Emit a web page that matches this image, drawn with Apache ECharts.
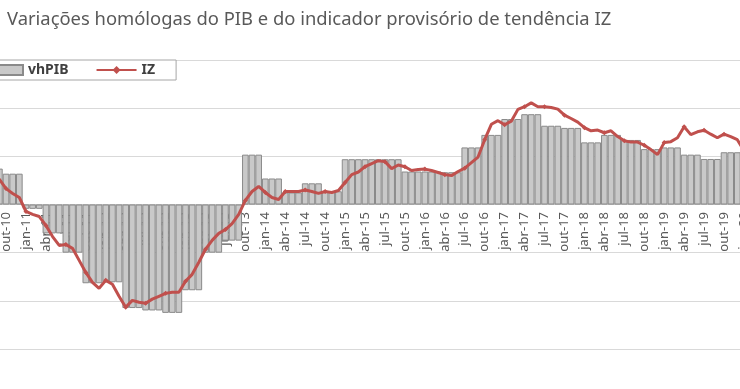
<!DOCTYPE html>
<html>
<head>
<meta charset="utf-8">
<script src="https://cdn.jsdelivr.net/npm/echarts@6/dist/echarts.min.js"></script>
<style>
html,body{margin:0;padding:0;background:#fff;}
#chart{width:740px;height:389px;}
</style>
</head>
<body>
<div id="chart"></div>
<script>
var titleText = 'Variações homólogas do PIB e do indicador provisório de tendência IZ';

var months = [
'jul-10','ago-10','set-10','out-10','nov-10','dez-10',
'jan-11','fev-11','mar-11','abr-11','mai-11','jun-11','jul-11','ago-11','set-11','out-11','nov-11','dez-11',
'jan-12','fev-12','mar-12','abr-12','mai-12','jun-12','jul-12','ago-12','set-12','out-12','nov-12','dez-12',
'jan-13','fev-13','mar-13','abr-13','mai-13','jun-13','jul-13','ago-13','set-13','out-13','nov-13','dez-13',
'jan-14','fev-14','mar-14','abr-14','mai-14','jun-14','jul-14','ago-14','set-14','out-14','nov-14','dez-14',
'jan-15','fev-15','mar-15','abr-15','mai-15','jun-15','jul-15','ago-15','set-15','out-15','nov-15','dez-15',
'jan-16','fev-16','mar-16','abr-16','mai-16','jun-16','jul-16','ago-16','set-16','out-16','nov-16','dez-16',
'jan-17','fev-17','mar-17','abr-17','mai-17','jun-17','jul-17','ago-17','set-17','out-17','nov-17','dez-17',
'jan-18','fev-18','mar-18','abr-18','mai-18','jun-18','jul-18','ago-18','set-18','out-18','nov-18','dez-18',
'jan-19','fev-19','mar-19','abr-19','mai-19','jun-19','jul-19','ago-19','set-19','out-19','nov-19','dez-19',
'jan-20'
];

// vhPIB: quarterly year-on-year GDP change, repeated on each month of the quarter
var vhPIB = [
1.49,1.49,1.49, 1.28,1.28,1.28,
-0.18,-0.18,-0.18, -1.2,-1.2,-1.2, -2.0,-2.0,-2.0, -3.27,-3.27,-3.27,
-3.23,-3.23,-3.23, -4.3,-4.3,-4.3, -4.4,-4.4,-4.4, -4.5,-4.5,-4.5,
-3.56,-3.56,-3.56, -2.0,-2.0,-2.0, -1.5,-1.5,-1.5, 2.07,2.07,2.07,
1.08,1.08,1.08, 0.5,0.5,0.5, 0.88,0.88,0.88, 0.55,0.55,0.55,
1.88,1.88,1.88, 1.88,1.88,1.88, 1.88,1.88,1.88, 1.37,1.37,1.37,
1.37,1.37,1.37, 1.34,1.34,1.34, 2.37,2.37,2.37, 2.89,2.89,2.89,
3.55,3.55,3.55, 3.75,3.75,3.75, 3.27,3.27,3.27, 3.18,3.18,3.18,
2.58,2.58,2.58, 2.89,2.89,2.89, 2.68,2.68,2.68, 2.3,2.3,2.3,
2.37,2.37,2.37, 2.07,2.07,2.07, 1.89,1.89,1.89, 2.17,2.17,2.17,
null
];

// IZ: monthly provisional trend indicator
var IZ = [
1.49,1.33,1.04, 0.66,0.46,0.29,
-0.29,-0.41,-0.50, -0.87,-1.33,-1.70, -1.66,-1.82,-2.32, -2.82,-3.23,-3.48,
-3.15,-3.31,-3.81, -4.27,-3.98,-4.06, -4.10,-3.93,-3.81, -3.69,-3.64,-3.64,
-3.19,-2.90,-2.40, -1.86,-1.49,-1.20, -1.04,-0.79,-0.41, 0.17,0.54,0.75,
0.50,0.29,0.21, 0.54,0.54,0.54, 0.60,0.54,0.46, 0.54,0.50,0.58,
0.91,1.24,1.35, 1.57,1.70,1.82, 1.78,1.49,1.64, 1.57,1.41,1.45,
1.47,1.41,1.33, 1.24,1.20,1.37, 1.51,1.74,1.97, 2.69,3.33,3.48,
3.31,3.46,3.95, 4.06,4.22,4.06, 4.06,4.03,3.96, 3.71,3.57,3.42,
3.19,3.06,3.09, 2.98,3.06,2.82, 2.65,2.59,2.59, 2.46,2.28,2.07,
2.57,2.61,2.77, 3.23,2.90,3.02, 3.08,2.92,2.77, 2.92,2.82,2.69,
2.24
];

var yMin = -6, yMax = 6, yStep = 2;

var chart = echarts.init(document.getElementById('chart'), null, {renderer: 'canvas'});
chart.setOption({
  animation: false,
  backgroundColor: '#ffffff',
  title: {
    text: titleText,
    left: 2,
    top: 6,
    textStyle: {fontFamily: 'Noto Sans', fontSize: 18.4, fontWeight: 'normal', color: '#595959'}
  },
  legend: {
    left: -23,
    top: 60,
    orient: 'horizontal',
    itemWidth: 40,
    itemHeight: 10,
    itemGap: 27,
    padding: [3, 21, 3, 5],
    backgroundColor: '#ffffff',
    borderColor: '#a6a6a6',
    borderWidth: 1,
    textStyle: {fontFamily: 'Noto Sans', fontSize: 14, fontWeight: 'bold', color: '#404040'},
    data: [{name: 'vhPIB', icon: 'rect'}, {name: 'IZ'}]
  },
  grid: {left: -17.24, right: -7.3, top: 60, bottom: 40, containLabel: false, outerBoundsMode: 'none'},
  xAxis: {
    type: 'category',
    data: months,
    boundaryGap: true,
    position: 'bottom',
    offset: -145,
    axisLine: {onZero: false, lineStyle: {color: '#bfbfbf', width: 1}},
    axisTick: {show: false},
    axisLabel: {
      interval: 2,
      rotate: 90,
      margin: 8,
      fontFamily: 'Noto Sans',
      fontSize: 13,
      color: '#595959'
    },
    splitLine: {show: false}
  },
  yAxis: {
    type: 'value',
    min: yMin,
    max: yMax,
    interval: yStep,
    axisLabel: {show: false},
    axisLine: {show: false},
    axisTick: {show: false},
    splitLine: {lineStyle: {color: '#d9d9d9', width: 1}}
  },
  series: [
    {
      name: 'vhPIB',
      type: 'bar',
      data: vhPIB,
      barWidth: '100%',
      barCategoryGap: '0%',
      itemStyle: {color: '#c9c9c9', borderColor: '#8a8a8a', borderWidth: 1},
      z: 2
    },
    {
      name: 'IZ',
      type: 'line',
      data: IZ,
      symbol: 'diamond',
      symbolSize: 5,
      showSymbol: true,
      lineStyle: {color: '#c0504d', width: 3},
      itemStyle: {color: '#c0504d'},
      z: 3
    }
  ]
});
</script>
</body>
</html>
